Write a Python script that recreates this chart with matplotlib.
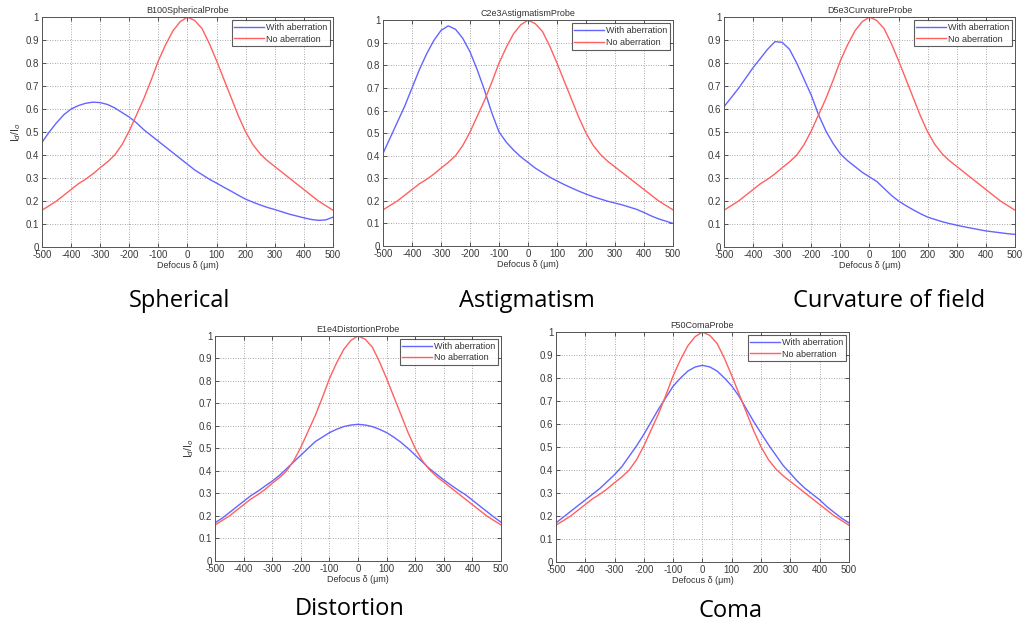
import matplotlib
matplotlib.use('Agg')
import matplotlib.pyplot as plt
import numpy as np

plt.rcParams['font.family'] = ['Liberation Sans', 'DejaVu Sans']
plt.rcParams['axes.unicode_minus'] = False

# defocus positions (um)
defocus = np.arange(-500, 501, 25)

# reference response without aberration (same for every probe)
no_aberration = [
    0.16, 0.18, 0.20, 0.225, 0.25, 0.275, 0.295, 0.318, 0.345, 0.37,
    0.40, 0.445, 0.505, 0.575, 0.645, 0.725, 0.81, 0.88, 0.94, 0.98,
    1.00, 0.985, 0.95, 0.885, 0.81, 0.73, 0.65, 0.57, 0.50, 0.445,
    0.405, 0.375, 0.35, 0.325, 0.30, 0.275, 0.25, 0.225, 0.20, 0.18, 0.16,
]

spherical = [
    0.455, 0.50, 0.54, 0.575, 0.60, 0.615, 0.625, 0.63, 0.628, 0.62,
    0.605, 0.585, 0.565, 0.54, 0.51, 0.485, 0.46, 0.435, 0.41, 0.385,
    0.36, 0.335, 0.315, 0.295, 0.278, 0.26, 0.243, 0.225, 0.208, 0.195,
    0.183, 0.172, 0.163, 0.153, 0.143, 0.135, 0.127, 0.12, 0.116, 0.118, 0.13,
]

astigmatism = [
    0.41, 0.48, 0.55, 0.62, 0.70, 0.78, 0.85, 0.91, 0.955, 0.975,
    0.96, 0.92, 0.86, 0.78, 0.69, 0.59, 0.505, 0.46, 0.425, 0.395,
    0.37, 0.345, 0.325, 0.305, 0.288, 0.272, 0.257, 0.243, 0.23, 0.218,
    0.208, 0.198, 0.19, 0.182, 0.172, 0.162, 0.148, 0.133, 0.12, 0.11, 0.10,
]

curvature = [
    0.61, 0.65, 0.69, 0.735, 0.78, 0.82, 0.86, 0.893, 0.89, 0.86,
    0.80, 0.73, 0.66, 0.575, 0.505, 0.45, 0.405, 0.375, 0.35, 0.325,
    0.305, 0.285, 0.255, 0.225, 0.20, 0.18, 0.162, 0.145, 0.13, 0.12,
    0.11, 0.102, 0.095, 0.088, 0.082, 0.076, 0.07, 0.066, 0.062, 0.058, 0.055,
]

distortion = [
    0.17, 0.19, 0.215, 0.24, 0.265, 0.29, 0.31, 0.333, 0.355, 0.38,
    0.41, 0.44, 0.47, 0.50, 0.53, 0.55, 0.57, 0.585, 0.597, 0.604,
    0.607, 0.604, 0.597, 0.585, 0.57, 0.55, 0.527, 0.50, 0.47, 0.44,
    0.41, 0.385, 0.36, 0.337, 0.315, 0.295, 0.27, 0.245, 0.22, 0.195, 0.172,
]

coma = [
    0.17, 0.195, 0.22, 0.245, 0.27, 0.295, 0.32, 0.35, 0.38, 0.415,
    0.46, 0.505, 0.555, 0.61, 0.665, 0.715, 0.765, 0.80, 0.83, 0.848,
    0.855, 0.848, 0.83, 0.80, 0.765, 0.72, 0.665, 0.61, 0.56, 0.51,
    0.465, 0.42, 0.385, 0.35, 0.32, 0.295, 0.27, 0.24, 0.215, 0.19, 0.17,
]

titles = ['B100SphericalProbe', 'C2e3AstigmatismProbe', 'D5e3CurvatureProbe',
          'E1e4DistortionProbe', 'F50ComaProbe']
captions = ['Spherical', 'Astigmatism', 'Curvature of field', 'Distortion', 'Coma']
series = [spherical, astigmatism, curvature, distortion, coma]
show_ylabel = [True, False, False, True, False]

# axes rectangles in figure fraction: left, bottom, width, height
rects = [
    [0.041, 0.606, 0.2845, 0.3668],
    [0.3744, 0.6077, 0.2835, 0.360],
    [0.7077, 0.606, 0.2845, 0.3668],
    [0.2102, 0.1053, 0.2796, 0.359],
    [0.5435, 0.1037, 0.2864, 0.3668],
]
# caption centres in pixels (x, y from top)
caption_pos = [(180, 301), (527, 301), (889, 301), (350, 609), (730, 611)]

W, H = 1023, 627
fig = plt.figure(figsize=(W / 100, H / 100), dpi=100)

blue = '#6464ff'
red = '#ff6060'
tick_color = '#3a3a3a'

for rect, title, ys, ylab in zip(rects, titles, series, show_ylabel):
    ax = fig.add_axes(rect)
    ax.plot(defocus, ys, color=blue, lw=1.0, label='With aberration')
    ax.plot(defocus, no_aberration, color=red, lw=1.0, label='No aberration')
    ax.set_xlim(-500, 500)
    ax.set_ylim(0, 1)
    ax.set_xticks(np.arange(-500, 501, 100))
    ax.set_yticks(np.arange(0, 1.01, 0.1))
    ax.set_yticklabels(['0'] + ['%.1f' % v for v in np.arange(0.1, 0.95, 0.1)] + ['1'])
    ax.grid(True, color='#8c8c8c', linestyle=(0, (1, 2)), linewidth=0.6)
    ax.tick_params(direction='in', top=True, right=True, labelsize=7,
                   colors=tick_color, length=3, width=0.6, pad=2)
    for sp in ax.spines.values():
        sp.set_color('#555555')
        sp.set_linewidth(0.7)
    ax.set_title(title, fontsize=6.5, color='#333333', pad=3)
    ax.set_xlabel('Defocus δ (μm)', fontsize=6.5, color='#333333', labelpad=1)
    if ylab:
        ax.set_ylabel('I$_d$/I$_o$', fontsize=7.5, color='#333333', labelpad=2)
    leg = ax.legend(loc='upper right', fontsize=6.5, frameon=True, fancybox=False,
                    handlelength=3.3, borderpad=0.3, labelspacing=0.3,
                    handletextpad=0.2, borderaxespad=0.35)
    leg.get_frame().set_edgecolor('#333333')
    leg.get_frame().set_linewidth(0.8)
    for txt in leg.get_texts():
        txt.set_color('#333333')

for cap, (cx, cy) in zip(captions, caption_pos):
    fig.text(cx / W, 1 - cy / H, cap, fontsize=17, family=['Open Sans', 'DejaVu Sans'],
             ha='center', va='center', color='black')

fig.savefig('out.png', dpi=100, facecolor='white')
